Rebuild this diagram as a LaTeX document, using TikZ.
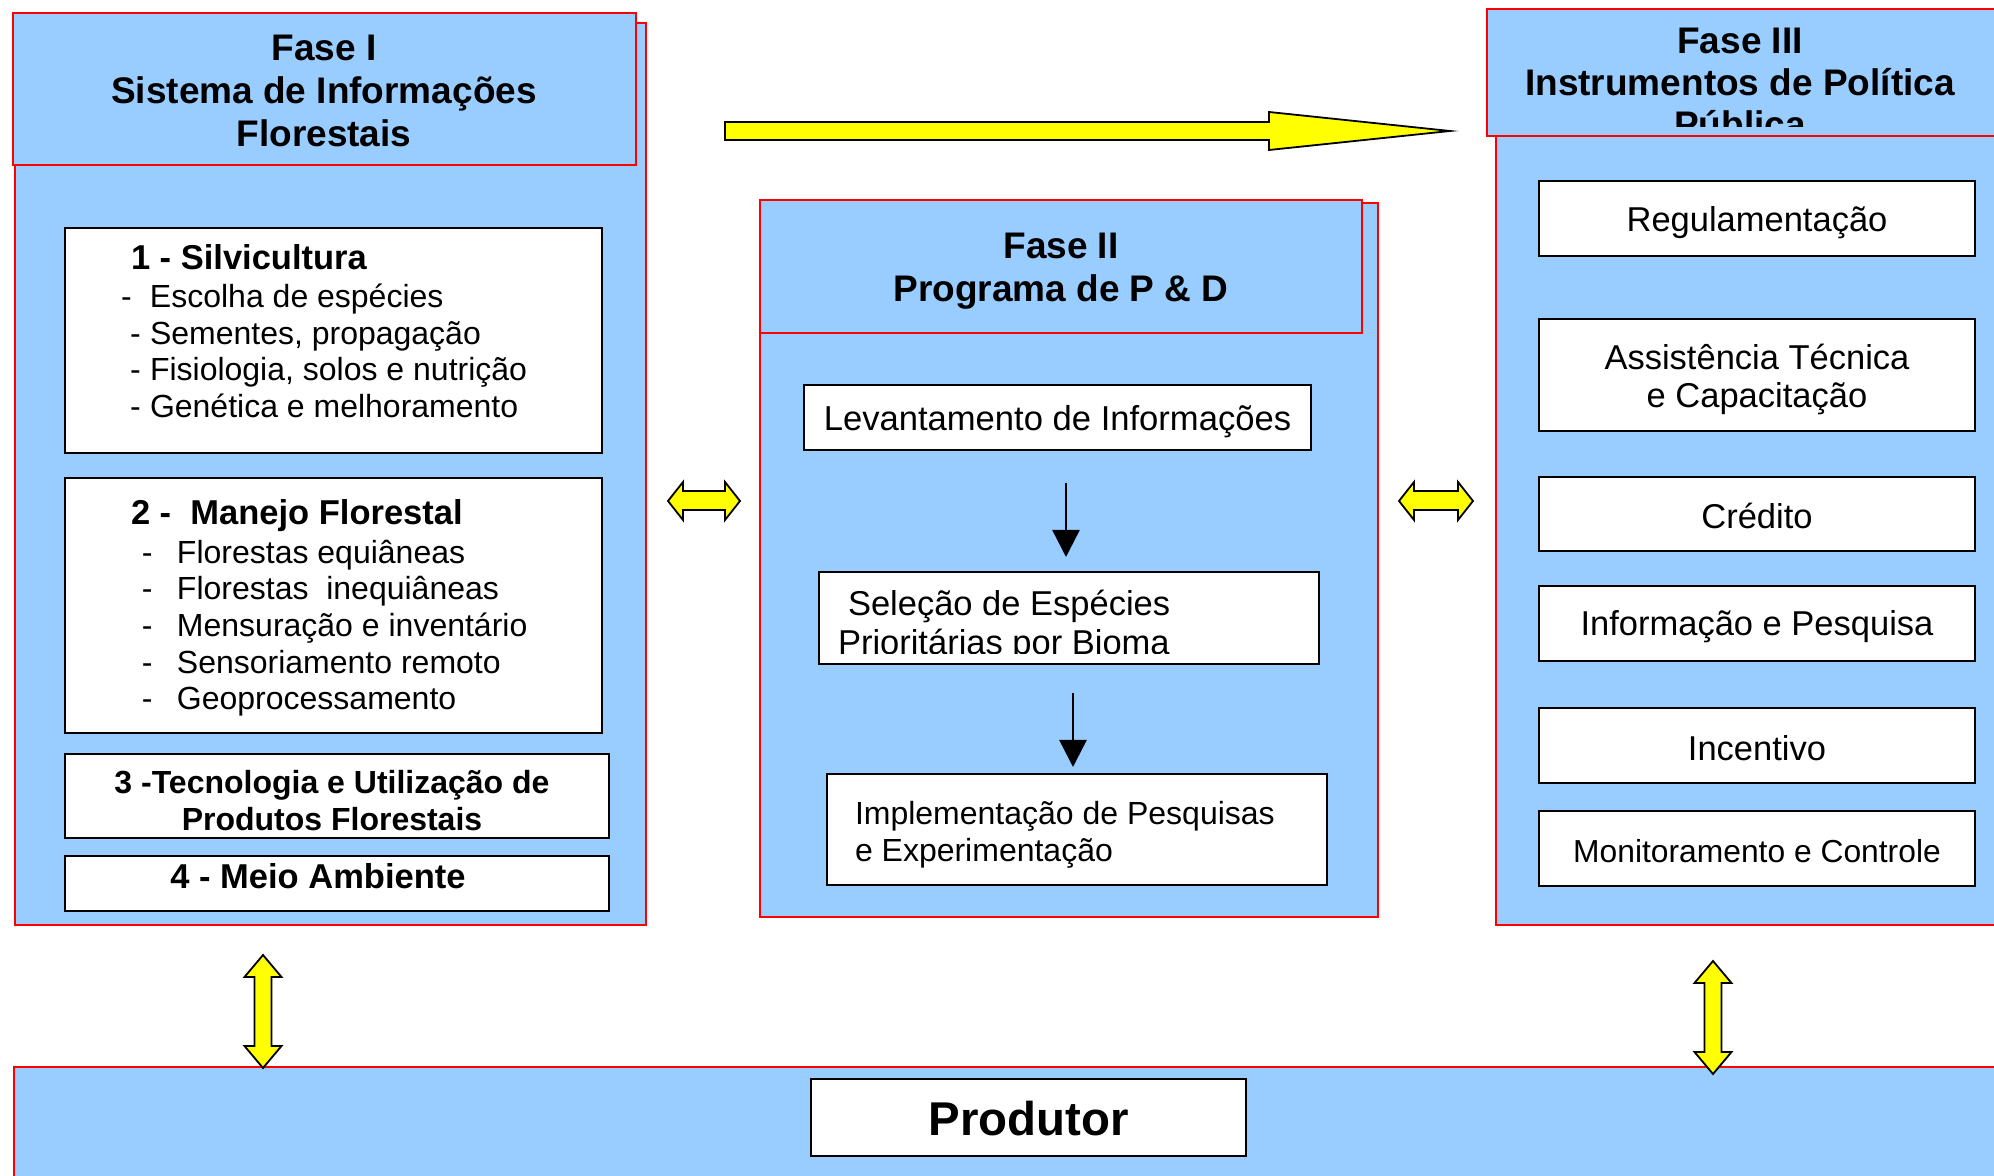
\documentclass[tikz,border=0pt]{standalone}
\usepackage{fontspec}
\setmainfont{Liberation Sans}
\usetikzlibrary{fit,arrows.meta}
\definecolor{panelblue}{HTML}{99CCFF}
\definecolor{pred}{HTML}{FF0000}
\definecolor{ayellow}{HTML}{FFFF00}
\newcommand\fsz[2]{\fontsize{#1}{#2}\selectfont}
\begin{document}
\begin{tikzpicture}[x=0.5pt,y=-0.5pt,
 panel/.style={draw=pred, line width=1pt, fill=panelblue, inner sep=0pt, outer sep=0pt},
 wbox/.style={draw=black, line width=1.2pt, fill=white, inner sep=0pt, outer sep=0pt},
 txt/.style={inner sep=0pt, outer sep=0pt},
 yarrow/.style={draw=black, line width=0.9pt, fill=ayellow, line join=miter},
 flow/.style={line width=1.25pt, -{Triangle[length=13.5pt,width=13.5pt]}},
 rtext/.style={font=\fsz{17.25pt}{19pt}, align=center},
]
\fill[white] (0,0) rectangle (1994,1176);
\useasboundingbox (0,0) rectangle (1994,1176);

% ---------- Phase I ----------
\node[panel, fit={(15,23)(646,925)}] (p1back) {};
\node[panel, fit={(12.7,12.7)(636,165)}] (p1head) {};
\node[txt, align=center, font=\fsz{18.5pt}{21.3pt}\bfseries] (t1) at (324,91)
  {Fase I\\Sistema de Informações\\Florestais};

\node[wbox, fit={(65,228)(602,453)}] (b1) {};
\node[wbox, fit={(65,478)(602,733)}] (b2) {};
\node[wbox, fit={(65,754)(609,838)}] (b3) {};
\node[wbox, fit={(65,856)(609,911)}] (b4) {};

\node[txt, anchor=west, align=left, font=\fsz{16pt}{18.3pt}] (t1b) at (121,331)
  {{\fontsize{17.25pt}{18.3pt}\selectfont\bfseries\hspace*{5pt}1 - Silvicultura}\\[1pt]
   \makebox[14.5pt][l]{-}Escolha de espécies\\
   \hspace*{4.5pt}\makebox[10pt][l]{-}Sementes, propagação\\
   \hspace*{4.5pt}\makebox[10pt][l]{-}Fisiologia, solos e nutrição\\
   \hspace*{4.5pt}\makebox[10pt][l]{-}Genética e melhoramento};

\node[txt, anchor=west, align=left, font=\fsz{16pt}{18.3pt}] (t2b) at (131,608)
  {{\fontsize{17.25pt}{18.3pt}\selectfont\bfseries 2 -~ Manejo Florestal}\\[1pt]
   \hspace*{5.5pt}\makebox[17.5pt][l]{-}Florestas equiâneas\\
   \hspace*{5.5pt}\makebox[17.5pt][l]{-}Florestas~ inequiâneas\\
   \hspace*{5.5pt}\makebox[17.5pt][l]{-}Mensuração e inventário\\
   \hspace*{5.5pt}\makebox[17.5pt][l]{-}Sensoriamento remoto\\
   \hspace*{5.5pt}\makebox[17.5pt][l]{-}Geoprocessamento};

\node[txt, align=center, font=\fsz{16pt}{18.4pt}\bfseries] (t3b) at (332,800.5)
  {3 -Tecnologia e Utilização de\\Produtos Florestais};
\node[txt, font=\fsz{17.25pt}{19pt}\bfseries] (t4b) at (318,876) {4 - Meio Ambiente};

% ---------- Phase II ----------
\node[panel, fit={(760,203)(1378,917)}] (p2back) {};
\node[panel, fit={(760,200)(1362,333)}] (p2head) {};
\node[txt, align=center, font=\fsz{18.5pt}{21.6pt}\bfseries] (t2) at (1061,271)
  {Fase II\\Programa de P \& D};

\node[wbox, fit={(804,385)(1311,450)}] (lev) {};
\node[txt, font=\fsz{17.3pt}{19pt}] (tlev) at (1057.5,421.5) {Levantamento de Informações};
\node[wbox, fit={(819,572)(1319,664)}] (sel) {};
\begin{scope}
  \clip (819,572) rectangle (1319,654);
  \node[txt, anchor=west, align=left, font=\fsz{17.25pt}{19.7pt}] (tsel) at (838,626)
    {\hspace*{5pt}Seleção de Espécies\\Prioritárias por Bioma};
\end{scope}
\node[wbox, fit={(827,774)(1327,885)}] (impl) {};
\node[txt, anchor=west, align=left, font=\fsz{16pt}{18.4pt}] (timpl) at (855,834.5)
  {Implementação de Pesquisas\\e Experimentação};

\draw[flow] ([xshift=4.25pt,yshift=-16.5pt]lev.south) -- ([xshift=-1.5pt,yshift=7.5pt]sel.north);
\draw[flow] ([xshift=2pt,yshift=-14.5pt]sel.south) -- ([xshift=-2pt,yshift=3.5pt]impl.north);

% ---------- Phase III ----------
\node[panel, fit={(1496,12)(2010,925)}] (p3back) {};
\node[panel, fit={(1487,9)(2010,136)}] (p3head) {};
\begin{scope}
  \clip (1487,9) rectangle (1994,127);
  \node[txt, align=center, font=\fsz{18.5pt}{21pt}\bfseries] (t3) at (1740,82.5)
    {Fase III\\Instrumentos de Política\\Pública};
\end{scope}

\node[wbox, fit={(1539,181)(1975,256)}] (reg) {};
\node[txt, rtext] at ([yshift=-2pt]reg.center) {Regulamentação};
\node[wbox, fit={(1539,319)(1975,431)}] (assist) {};
\node[txt, rtext] at ([yshift=-2pt]assist.center) {Assistência Técnica\\e Capacitação};
\node[wbox, fit={(1539,477)(1975,551)}] (cred) {};
\node[txt, rtext] at ([yshift=-0.75pt]cred.center) {Crédito};
\node[wbox, fit={(1539,586)(1975,661)}] (info) {};
\node[txt, rtext] at ([yshift=-1.75pt]info.center) {Informação e Pesquisa};
\node[wbox, fit={(1539,708)(1975,783)}] (inc) {};
\node[txt, rtext] at ([yshift=-1.25pt]inc.center) {Incentivo};
\node[wbox, fit={(1539,811)(1975,886)}] (mon) {};
\node[txt, font=\fsz{15.9pt}{18pt}] at ([yshift=-1.25pt]mon.center) {Monitoramento e Controle};

% ---------- Producer ----------
\node[panel, fit={(14,1067)(2010,1190)}] (prodpanel) {};
\node[wbox, fit={(811,1079)(1246,1156)}] (prod) {};
\node[txt, font=\fsz{23.7pt}{26pt}\bfseries] at ([yshift=-0.75pt]prod.center) {Produtor};

% ---------- Yellow block arrows ----------
\draw[yarrow] (725,122) -- (1269,122) -- (1269,112) -- (1450,131) -- (1269,150) -- (1269,140) -- (725,140) -- cycle;
\draw[yarrow] (668,501) -- (683,482) -- (683,491) -- (725,491) -- (725,482) -- (740,501)
  -- (725,520) -- (725,510) -- (683,510) -- (683,520) -- cycle;
\draw[yarrow] (1399,501) -- (1414,482) -- (1414,491) -- (1458,491) -- (1458,482) -- (1473,501)
  -- (1458,520) -- (1458,510) -- (1414,510) -- (1414,520) -- cycle;
\draw[yarrow] (263,955) -- (281.5,977) -- (271.5,977) -- (271.5,1046) -- (281.5,1046) -- (263,1068)
  -- (244.5,1046) -- (254.5,1046) -- (254.5,977) -- (244.5,977) -- cycle;
\draw[yarrow] (1713,961) -- (1731.5,983) -- (1721.5,983) -- (1721.5,1052) -- (1731.5,1052) -- (1713,1074)
  -- (1694.5,1052) -- (1704.5,1052) -- (1704.5,983) -- (1694.5,983) -- cycle;
\end{tikzpicture}
\end{document}
